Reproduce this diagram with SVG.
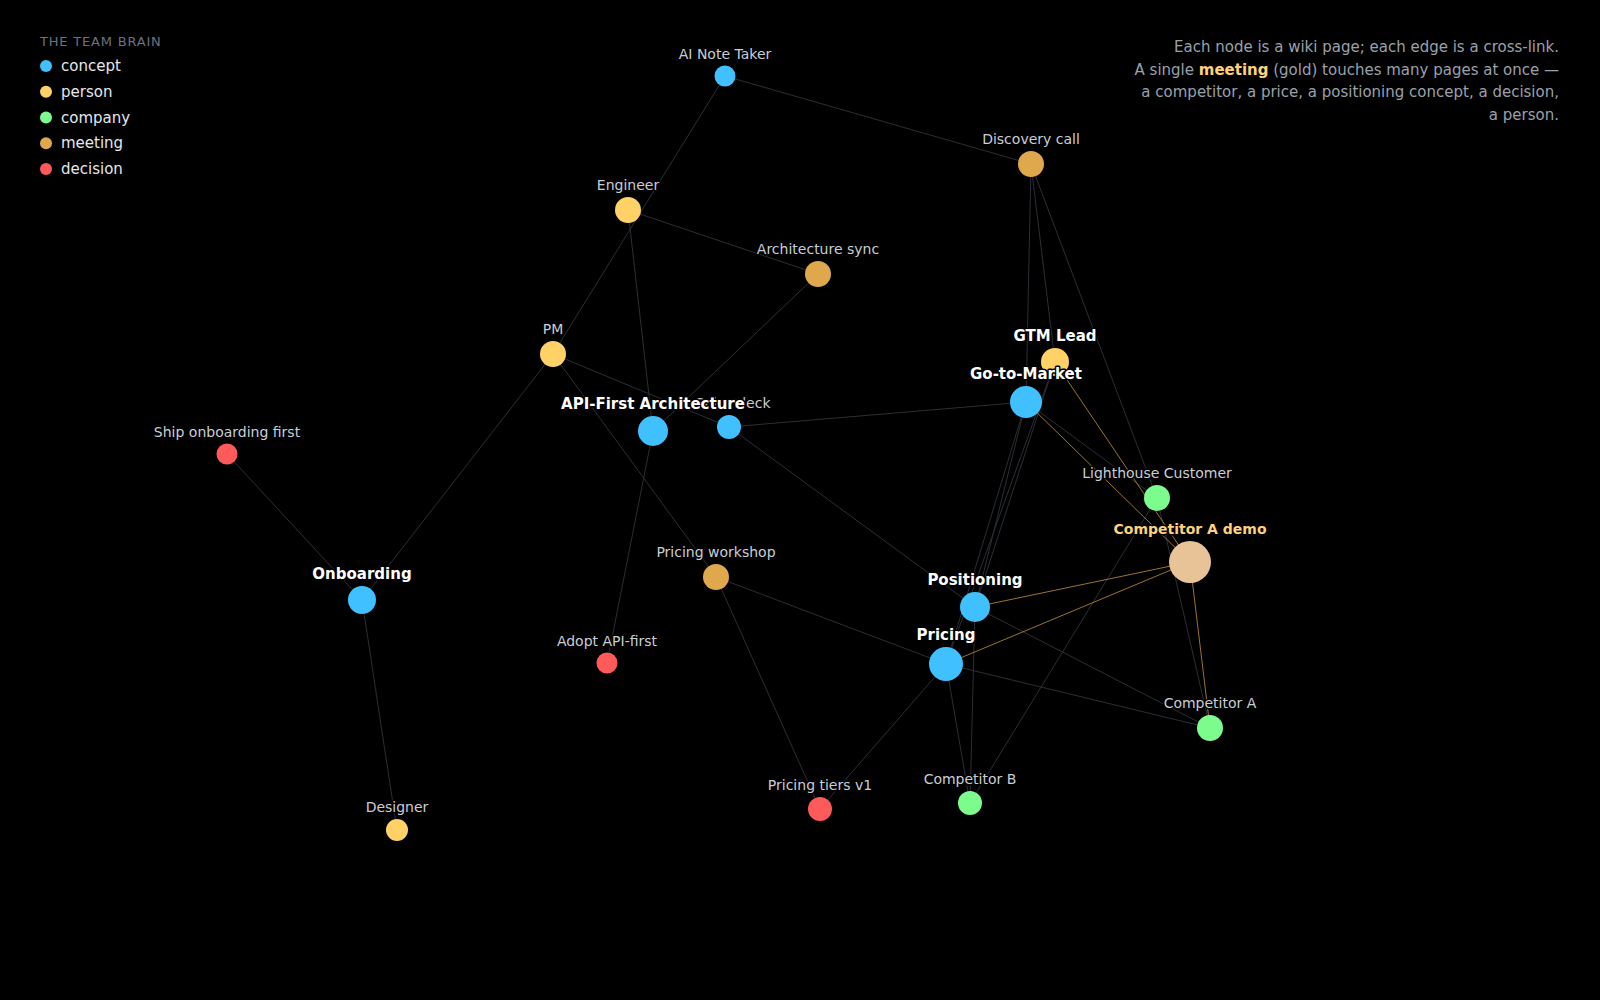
<svg xmlns="http://www.w3.org/2000/svg" width="1600" height="1000" viewBox="0 0 1600 1000">
<style>
  .bg { fill: #000000; }
  .edge { stroke: #2b2e34; stroke-width: 1; fill: none; }
  .edge-gold { stroke: #c0903c; stroke-width: 1; stroke-opacity: 0.8; fill: none; }
  .concept { fill: #40c0ff; }
  .person { fill: #ffd166; }
  .company { fill: #7cfc8c; }
  .meeting { fill: #e0a84c; }
  .decision { fill: #ff5a5a; }
  .demo { fill: #e9c398; }
  .lbl { font-family: "DejaVu Sans", sans-serif; font-size: 14px; fill: #c9ced6; text-anchor: middle; paint-order: stroke; stroke: #000; stroke-width: 3px; stroke-linejoin: round; }
  .lbl-b { font-family: "DejaVu Sans", sans-serif; font-size: 15px; font-weight: bold; fill: #ffffff; text-anchor: middle; paint-order: stroke; stroke: #000; stroke-width: 3px; stroke-linejoin: round; }
  .lbl-gold { font-family: "DejaVu Sans", sans-serif; font-size: 14px; font-weight: bold; fill: #ffd27a; text-anchor: middle; paint-order: stroke; stroke: #000; stroke-width: 3px; stroke-linejoin: round; }
  .legend-title { font-family: "DejaVu Sans", sans-serif; font-size: 13px; fill: #6b7280; letter-spacing: 0.8px; }
  .legend-item { font-family: "DejaVu Sans", sans-serif; font-size: 15px; fill: #e5e7eb; }
  .desc { font-family: "DejaVu Sans", sans-serif; font-size: 15px; fill: #9aa1ab; text-anchor: end; }
  .desc-hl { font-weight: bold; fill: #ffd27a; }
</style>
<rect class="bg" x="0" y="0" width="1600" height="1000"/>

<g id="legend">
  <text class="legend-title" x="40" y="46">THE TEAM BRAIN</text>
  <circle class="concept" cx="46" cy="66" r="6"/>
  <text class="legend-item" x="61" y="71">concept</text>
  <circle class="person" cx="46" cy="91.8" r="6"/>
  <text class="legend-item" x="61" y="96.8">person</text>
  <circle class="company" cx="46" cy="117.5" r="6"/>
  <text class="legend-item" x="61" y="122.5">company</text>
  <circle class="meeting" cx="46" cy="143.3" r="6"/>
  <text class="legend-item" x="61" y="148.3">meeting</text>
  <circle class="decision" cx="46" cy="169" r="6"/>
  <text class="legend-item" x="61" y="174">decision</text>
</g>

<g id="description">
  <text class="desc" x="1559" y="52">Each node is a wiki page; each edge is a cross-link.</text>
  <text class="desc" x="1559" y="74.5">A single <tspan class="desc-hl">meeting</tspan> (gold) touches many pages at once —</text>
  <text class="desc" x="1559" y="97">a competitor, a price, a positioning concept, a decision,</text>
  <text class="desc" x="1559" y="119.5">a person.</text>
</g>

<g id="connectors">
  <line class="edge" x1="725" y1="76" x2="1031" y2="164"/>
  <line class="edge" x1="725" y1="76" x2="553" y2="354"/>
  <line class="edge" x1="628" y1="210" x2="818" y2="274"/>
  <line class="edge" x1="628" y1="210" x2="653" y2="431"/>
  <line class="edge" x1="818" y1="274" x2="653" y2="431"/>
  <line class="edge" x1="553" y1="354" x2="729" y2="427"/>
  <line class="edge" x1="553" y1="354" x2="362" y2="600"/>
  <line class="edge" x1="553" y1="354" x2="716" y2="577"/>
  <line class="edge" x1="653" y1="431" x2="607" y2="663"/>
  <line class="edge" x1="729" y1="427" x2="1026" y2="402"/>
  <line class="edge" x1="729" y1="427" x2="975" y2="607"/>
  <line class="edge" x1="1031" y1="164" x2="1026" y2="402"/>
  <line class="edge" x1="1031" y1="164" x2="1055" y2="362"/>
  <line class="edge" x1="1031" y1="164" x2="1157" y2="498"/>
  <line class="edge" x1="1026" y1="402" x2="975" y2="607"/>
  <line class="edge" x1="1026" y1="402" x2="946" y2="664"/>
  <line class="edge" x1="1055" y1="362" x2="975" y2="607"/>
  <line class="edge" x1="1055" y1="362" x2="946" y2="664"/>
  <line class="edge" x1="1026" y1="402" x2="1157" y2="498"/>
  <line class="edge" x1="1157" y1="498" x2="970" y2="803"/>
  <line class="edge" x1="1157" y1="498" x2="1210" y2="728"/>
  <line class="edge" x1="975" y1="607" x2="1210" y2="728"/>
  <line class="edge" x1="946" y1="664" x2="1210" y2="728"/>
  <line class="edge" x1="946" y1="664" x2="970" y2="803"/>
  <line class="edge" x1="975" y1="607" x2="970" y2="803"/>
  <line class="edge" x1="716" y1="577" x2="946" y2="664"/>
  <line class="edge" x1="716" y1="577" x2="820" y2="809"/>
  <line class="edge" x1="946" y1="664" x2="820" y2="809"/>
  <line class="edge" x1="362" y1="600" x2="227" y2="454"/>
  <line class="edge" x1="362" y1="600" x2="397" y2="830"/>
  <line class="edge-gold" x1="1190" y1="562" x2="1055" y2="362"/>
  <line class="edge-gold" x1="1190" y1="562" x2="1026" y2="402"/>
  <line class="edge-gold" x1="1190" y1="562" x2="975" y2="607"/>
  <line class="edge-gold" x1="1190" y1="562" x2="946" y2="664"/>
  <line class="edge-gold" x1="1190" y1="562" x2="1210" y2="728"/>
</g>

<g id="node-ai-note-taker"><circle class="concept" cx="725" cy="76" r="10.5"/></g>
<g id="node-discovery-call"><circle class="meeting" cx="1031" cy="164" r="13"/></g>
<g id="node-engineer"><circle class="person" cx="628" cy="210" r="13"/></g>
<g id="node-architecture-sync"><circle class="meeting" cx="818" cy="274" r="13"/></g>
<g id="node-pm"><circle class="person" cx="553" cy="354" r="13"/></g>
<g id="node-gtm-lead"><circle class="person" cx="1055" cy="362" r="14"/></g>
<g id="node-go-to-market"><circle class="concept" cx="1026" cy="402" r="16"/></g>
<g id="node-sales-deck"><circle class="concept" cx="729" cy="427" r="12"/></g>
<g id="node-api-first"><circle class="concept" cx="653" cy="431" r="15"/></g>
<g id="node-ship-onboarding"><circle class="decision" cx="227" cy="454" r="10.5"/></g>
<g id="node-lighthouse"><circle class="company" cx="1157" cy="498" r="13"/></g>
<g id="node-competitor-a-demo"><circle class="demo" cx="1190" cy="562" r="21"/></g>
<g id="node-pricing-workshop"><circle class="meeting" cx="716" cy="577" r="13"/></g>
<g id="node-onboarding"><circle class="concept" cx="362" cy="600" r="14"/></g>
<g id="node-positioning"><circle class="concept" cx="975" cy="607" r="15"/></g>
<g id="node-adopt-api-first"><circle class="decision" cx="607" cy="663" r="10.5"/></g>
<g id="node-pricing"><circle class="concept" cx="946" cy="664" r="17"/></g>
<g id="node-competitor-a"><circle class="company" cx="1210" cy="728" r="13"/></g>
<g id="node-competitor-b"><circle class="company" cx="970" cy="803" r="12"/></g>
<g id="node-pricing-tiers"><circle class="decision" cx="820" cy="809" r="12"/></g>
<g id="node-designer"><circle class="person" cx="397" cy="830" r="11"/></g>

<g id="labels">
  <text class="lbl" x="725" y="58.5">AI Note Taker</text>
  <text class="lbl" x="1031" y="144">Discovery call</text>
  <text class="lbl" x="628" y="190">Engineer</text>
  <text class="lbl" x="818" y="254">Architecture sync</text>
  <text class="lbl" x="553" y="334">PM</text>
  <text class="lbl" x="733" y="408">Sales deck</text>
  <text class="lbl" x="227" y="436.5">Ship onboarding first</text>
  <text class="lbl" x="1157" y="478">Lighthouse Customer</text>
  <text class="lbl" x="716" y="557">Pricing workshop</text>
  <text class="lbl" x="607" y="645.5">Adopt API-first</text>
  <text class="lbl" x="1210" y="708">Competitor A</text>
  <text class="lbl" x="970" y="784">Competitor B</text>
  <text class="lbl" x="820" y="790">Pricing tiers v1</text>
  <text class="lbl" x="397" y="812">Designer</text>
  <text class="lbl-b" x="1055" y="341">GTM Lead</text>
  <text class="lbl-b" x="1026" y="379">Go-to-Market</text>
  <text class="lbl-b" x="653" y="409">API-First Architecture</text>
  <text class="lbl-b" x="362" y="579">Onboarding</text>
  <text class="lbl-b" x="975" y="585">Positioning</text>
  <text class="lbl-b" x="946" y="640">Pricing</text>
  <text class="lbl-gold" x="1190" y="534">Competitor A demo</text>
</g>
</svg>
